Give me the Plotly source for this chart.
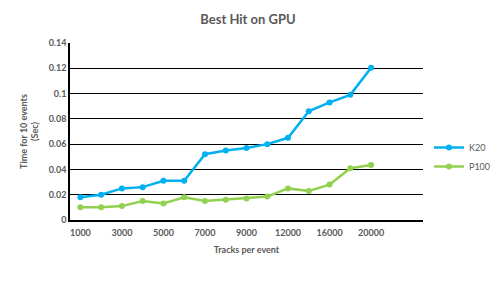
import plotly.graph_objects as go

tracks = ["1000", "2000", "3000", "4000", "5000", "6000", "7000", "8000",
          "9000", "10000", "12000", "14000", "16000", "18000", "20000"]
k20 = [0.018, 0.020, 0.025, 0.026, 0.031, 0.031, 0.052, 0.055,
       0.057, 0.060, 0.065, 0.086, 0.093, 0.099, 0.1205]
p100 = [0.010, 0.010, 0.011, 0.015, 0.013, 0.018, 0.015, 0.016,
        0.017, 0.0185, 0.025, 0.023, 0.028, 0.041, 0.0435]
y_ticks = [0, 0.02, 0.04, 0.06, 0.08, 0.1, 0.12, 0.14]
y_labels = ["0", "0.02", "0.04", "0.06", "0.08", "0.1", "0.12", "0.14"]

idx = list(range(len(tracks)))
n_slots = 17  # two empty category slots after the last value
x_tickvals = idx[::2]
x_ticktext = tracks[::2]

font_family = "Lato, Open Sans, sans-serif"
gray = "#595959"

# page body has an 8px default margin; figure is sized/offset to compensate
W, H, OFF = 491, 275, 8

fig = go.Figure()
fig.add_trace(go.Scatter(x=idx, y=k20, name="K20", mode="lines+markers",
                         line=dict(color="#00B0F0", width=2.5),
                         marker=dict(color="#00B0F0", size=6)))
fig.add_trace(go.Scatter(x=idx, y=p100, name="P100", mode="lines+markers",
                         line=dict(color="#92D050", width=2.5),
                         marker=dict(color="#92D050", size=6)))

fig.update_layout(
    width=W, height=H,
    margin=dict(l=70 - OFF, r=76, t=43 - OFF, b=63, autoexpand=False),
    paper_bgcolor="white", plot_bgcolor="white",
    title=dict(text="<b>Best Hit on GPU</b>", x=(248 - OFF) / W, xanchor="center",
               y=1 - (19 - OFF) / H, yanchor="middle",
               font=dict(family=font_family, size=13, color=gray)),
    font=dict(family=font_family, color=gray),
    legend=dict(xref="container", yref="container", x=(429 - OFF) / W,
                y=1 - (133 - OFF) / H,
                xanchor="left", yanchor="top", itemwidth=30,
                font=dict(family=font_family, size=9, color=gray),
                tracegroupgap=4, bgcolor="rgba(0,0,0,0)"),
    showlegend=True,
)
fig.update_xaxes(range=[-0.5, n_slots - 0.5], tickmode="array",
                 tickvals=x_tickvals, ticktext=x_ticktext,
                 showgrid=False, zeroline=False, showline=True,
                 linecolor="black", linewidth=1.5, ticks="",
                 ticklabelstandoff=3,
                 tickfont=dict(family=font_family, size=9, color=gray, weight="bold"),
                 title=dict(text="<b>Tracks per event</b>", standoff=10,
                            font=dict(family=font_family, size=9, color=gray)))
fig.update_yaxes(range=[0, 0.14], tickmode="array", tickvals=y_ticks,
                 ticktext=y_labels, showgrid=True, gridcolor="black",
                 gridwidth=1, zeroline=False, showline=True,
                 linecolor="black", linewidth=1.5, ticks="",
                 tickfont=dict(family=font_family, size=9, color=gray, weight="bold"),
                 title=dict(text="<b>Time for 10 events<br>(Sec)</b>", standoff=8,
                            font=dict(family=font_family, size=9, color=gray)))

fig.write_html("out.html")
